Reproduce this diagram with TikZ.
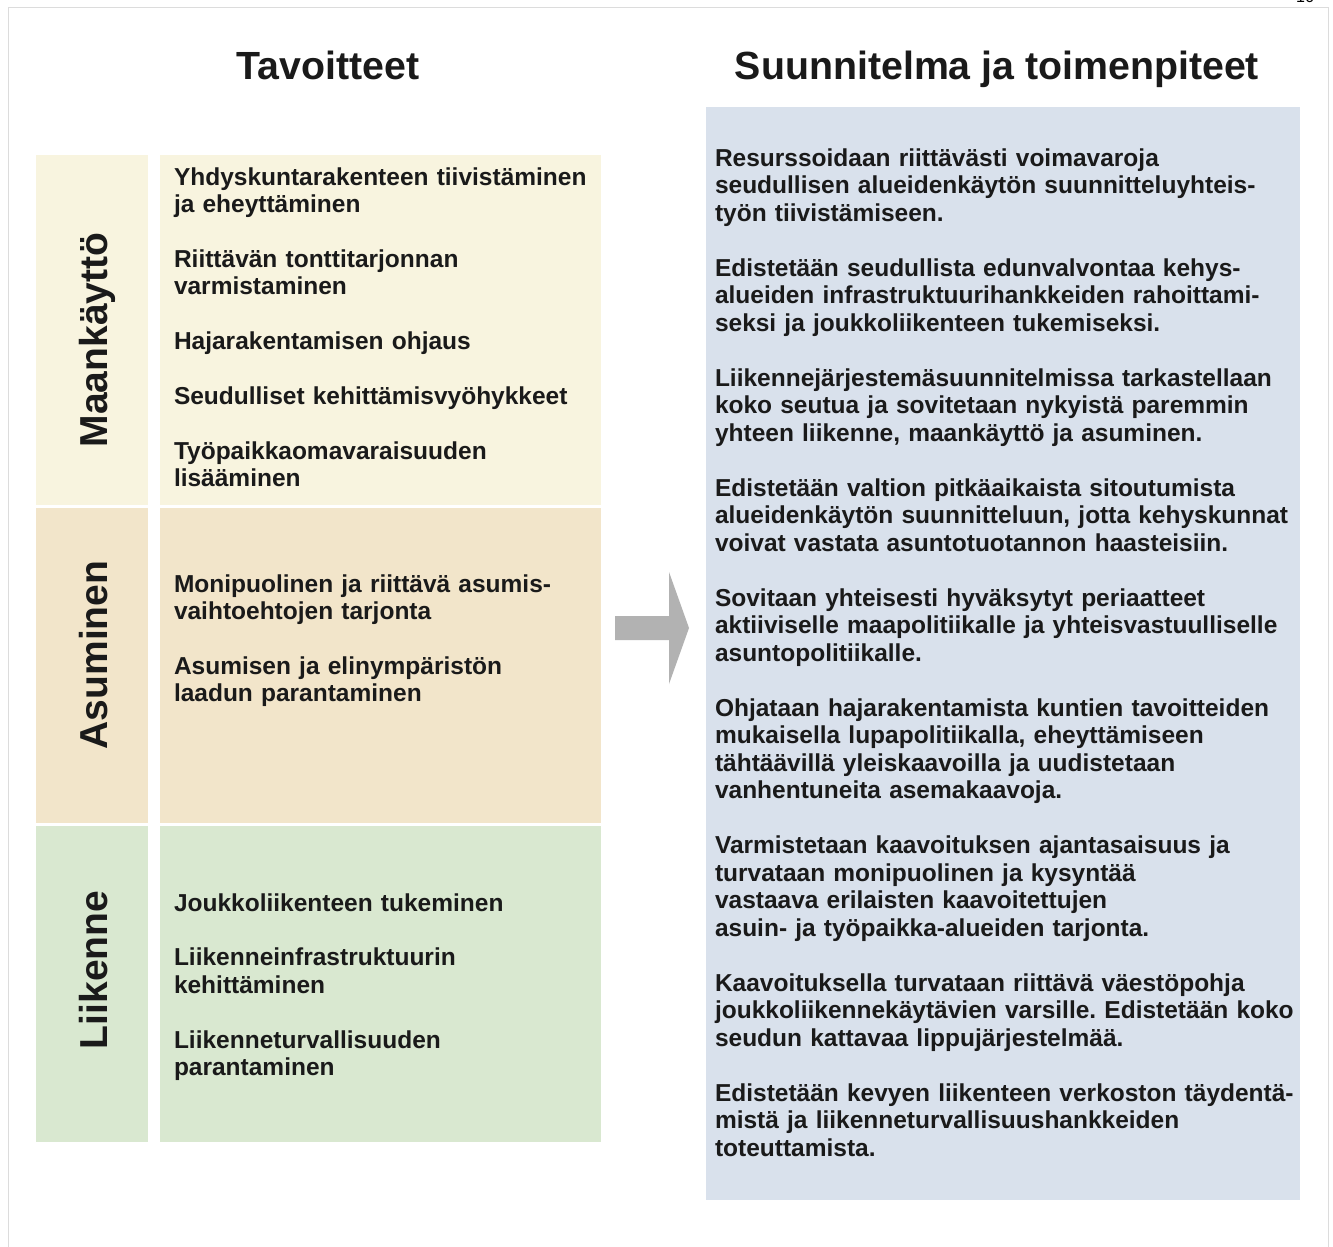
\documentclass[tikz,border=0pt]{standalone}
\usepackage{fontspec}
\setmainfont{Liberation Sans}
\frenchspacing
\begin{document}
\begin{tikzpicture}[x=1pt,y=-1pt,
  every node/.style={inner sep=0pt, outer sep=0pt},
  cell/.style={rectangle, anchor=north west},
  goal/.style={anchor=base west, text width=440pt, align=left, text=txt,
    font=\bfseries\fontsize{24.5}{27.4}\selectfont},
  plan/.style={anchor=base west, text width=600pt, align=left, text=txt,
    font=\bfseries\fontsize{24.5}{27.5}\selectfont},
  rowlabel/.style={rotate=90, anchor=base, text=txt,
    font=\bfseries\fontsize{39}{44}\selectfont},
  heading/.style={anchor=base, text=txt, font=\bfseries\fontsize{39.3}{44}\selectfont}]
\definecolor{txt}{HTML}{1A1A1A}
\definecolor{cyellow}{HTML}{F8F4DF}
\definecolor{ctan}{HTML}{F2E5CA}
\definecolor{cgreen}{HTML}{D9E8D0}
\definecolor{cblue}{HTML}{D9E1EC}
\definecolor{carrow}{HTML}{B2B2B2}
\definecolor{cframe}{HTML}{DCDCDC}
\useasboundingbox (0,0) rectangle (1333,1247);
\fill[white] (0,0) rectangle (1333,1247);
\draw[cframe, line width=1pt] (8,8) -- (1328,8) -- (1328,1260);
\draw[cframe, line width=1pt] (8,8) -- (8,1260);
\node[anchor=base, font=\fontsize{16}{18}\selectfont] (pnum) at (1305,3) {16};

% headings
\node[heading] (h1) at (328,79) {Tavoitteet};
\node[heading] (h2) at (997,80) {Suunnitelma ja toimenpiteet};

% left cells
\node[cell, fill=cyellow, minimum width=112pt, minimum height=350pt] (l1) at (36,155) {};
\node[cell, fill=cyellow, minimum width=441pt, minimum height=350pt] (c1) at (160,155) {};
\node[cell, fill=ctan, minimum width=112pt, minimum height=315pt] (l2) at (36,508) {};
\node[cell, fill=ctan, minimum width=441pt, minimum height=315pt] (c2) at (160,508) {};
\node[cell, fill=cgreen, minimum width=112pt, minimum height=316pt] (l3) at (36,826) {};
\node[cell, fill=cgreen, minimum width=441pt, minimum height=316pt] (c3) at (160,826) {};

% row labels
\node[rowlabel] (r1) at (107,340) {Maankäyttö};
\node[rowlabel] (r2) at (107,655) {Asuminen};
\node[rowlabel] (r3) at (107,970) {Liikenne};

% goals
\node[goal] (g1) at (174,185) {Yhdyskuntarakenteen tiivistäminen\\ja eheyttäminen};
\node[goal] (g2) at (174,267.2) {Riittävän tonttitarjonnan\\varmistaminen};
\node[goal] (g3) at (174,349.4) {Hajarakentamisen ohjaus};
\node[goal] (g4) at (174,404.2) {Seudulliset kehittämisvyöhykkeet};
\node[goal] (g5) at (174,459) {Työpaikkaomavaraisuuden\\lisääminen};
\node[goal] (g6) at (174,592) {Monipuolinen ja riittävä asumis-\\vaihtoehtojen tarjonta};
\node[goal] (g7) at (174,674.2) {Asumisen ja elinympäristön\\laadun parantaminen};
\node[goal] (g8) at (174,911) {Joukkoliikenteen tukeminen};
\node[goal] (g9) at (174,965.8) {Liikenneinfrastruktuurin\\kehittäminen};
\node[goal] (g10) at (174,1048) {Liikenneturvallisuuden\\parantaminen};

% arrow
\fill[carrow] (615,616) -- (669,616) -- (669,572) -- (689,628) -- (669,684) -- (669,640) -- (615,640) -- cycle;
\coordinate (arrowmid) at (652,628);

% plan box
\node[cell, fill=cblue, minimum width=594pt, minimum height=1093pt] (pb) at (706,107) {};
\node[plan] (p1) at (715,166) {Resurssoidaan riittävästi voimavaroja\\seudullisen alueidenkäytön suunnitteluyhteis-\\työn tiivistämiseen.};
\node[plan] (p2) at (715,276) {Edistetään seudullista edunvalvontaa kehys-\\alueiden infrastruktuurihankkeiden rahoittami-\\seksi ja joukkoliikenteen tukemiseksi.};
\node[plan] (p3) at (715,386) {Liikennejärjestemäsuunnitelmissa tarkastellaan\\koko seutua ja sovitetaan nykyistä paremmin\\yhteen liikenne, maankäyttö ja asuminen.};
\node[plan] (p4) at (715,496) {Edistetään valtion pitkäaikaista sitoutumista\\alueidenkäytön suunnitteluun, jotta kehyskunnat\\voivat vastata asuntotuotannon haasteisiin.};
\node[plan] (p5) at (715,606) {Sovitaan yhteisesti hyväksytyt periaatteet\\aktiiviselle maapolitiikalle ja yhteisvastuulliselle\\asuntopolitiikalle.};
\node[plan] (p6) at (715,716) {Ohjataan hajarakentamista kuntien tavoitteiden\\mukaisella lupapolitiikalla, eheyttämiseen\\tähtäävillä yleiskaavoilla ja uudistetaan\\vanhentuneita asemakaavoja.};
\node[plan] (p7) at (715,853.5) {Varmistetaan kaavoituksen ajantasaisuus ja\\turvataan monipuolinen ja kysyntää\\vastaava erilaisten kaavoitettujen\\asuin- ja työpaikka-alueiden tarjonta.};
\node[plan] (p8) at (715,991) {Kaavoituksella turvataan riittävä väestöpohja\\joukkoliikennekäytävien varsille. Edistetään koko\\seudun kattavaa lippujärjestelmää.};
\node[plan] (p9) at (715,1101) {Edistetään kevyen liikenteen verkoston täydentä-\\mistä ja liikenneturvallisuushankkeiden\\toteuttamista.};
\end{tikzpicture}
\end{document}
